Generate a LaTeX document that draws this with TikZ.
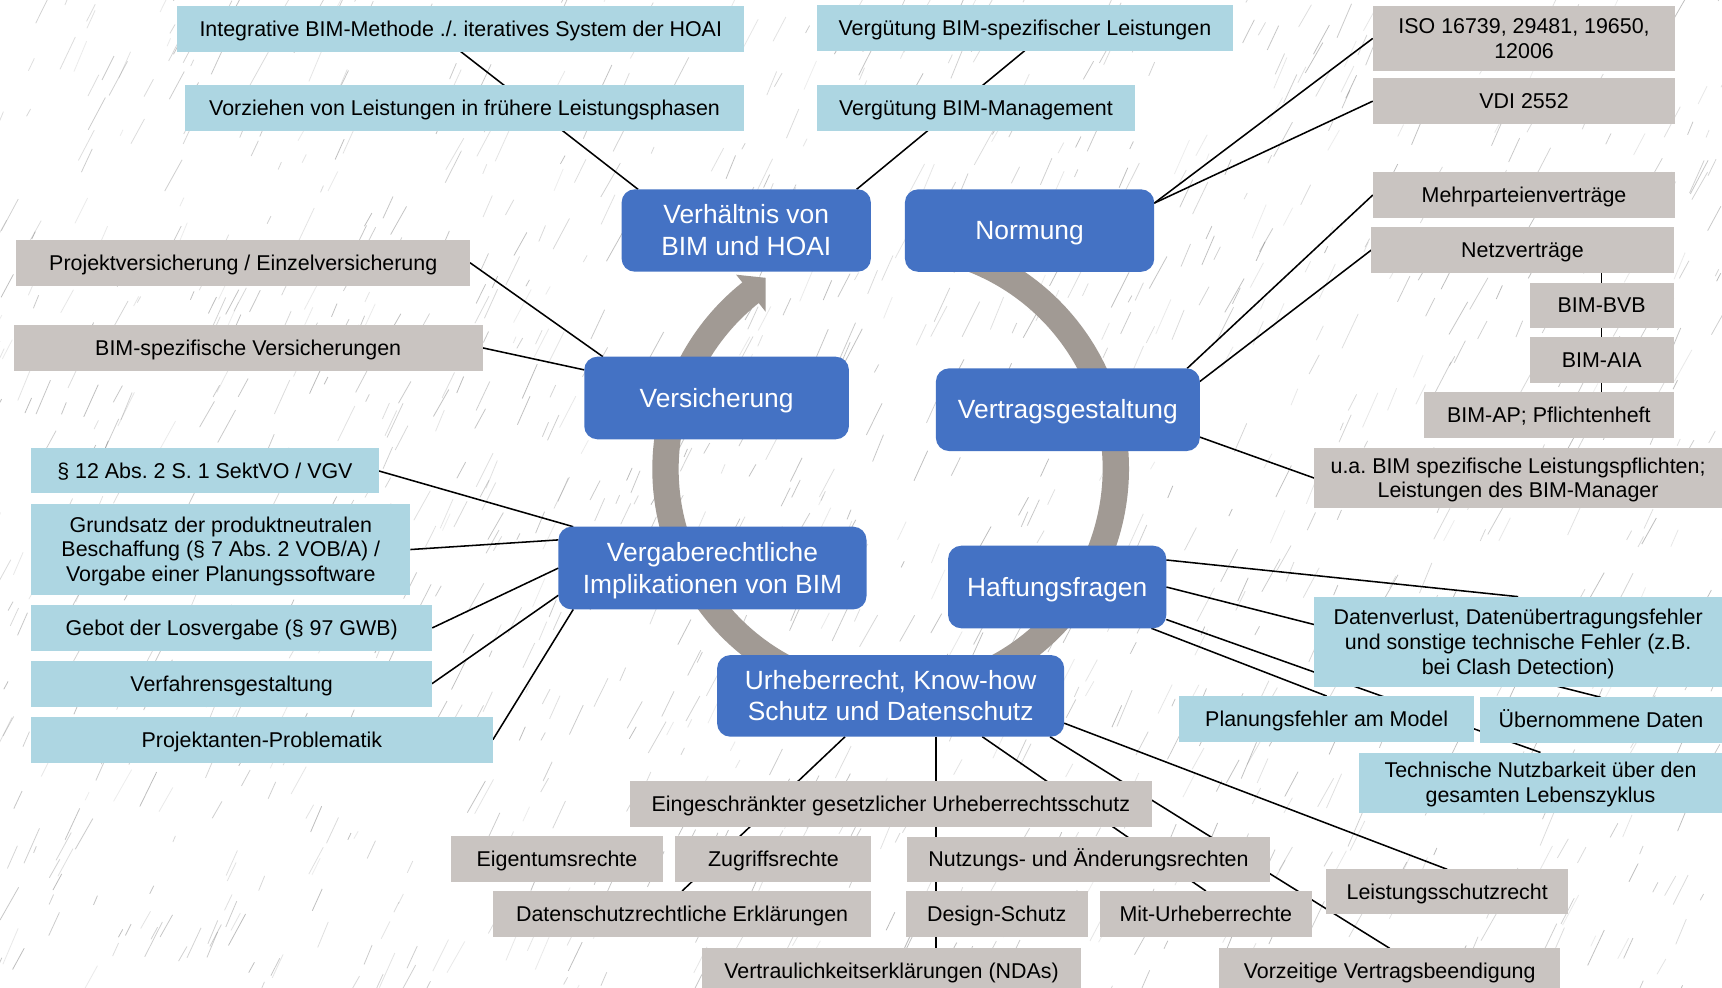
\documentclass[tikz,border=0pt]{standalone}
\usepackage{fontspec}
\setmainfont{Liberation Sans}
\usetikzlibrary{calc}
\definecolor{lblue}{RGB}{173,214,226}
\definecolor{gbox}{RGB}{201,196,193}
\definecolor{mblue}{RGB}{68,114,196}
\definecolor{ringc}{RGB}{161,154,148}
\definecolor{hatch}{RGB}{110,110,110}
\pgfdeclarelayer{bg}
\pgfsetlayers{bg,main}
\frenchspacing
\newcommand\tl[1]{\begin{tabular}[t]{@{}c@{}}#1\end{tabular}}
% \bx{style}{name}{x1}{y1}{x2}{y2}{text}
\newcommand\bx[7]{%
  \pgfmathsetmacro\bxw{#5-#3}\pgfmathsetmacro\bxh{#6-#4}%
  \pgfmathsetmacro\bxx{(#3+#5)/2}\pgfmathsetmacro\bxy{(#4+#6)/2}%
  \node[#1, minimum width=\bxw pt, minimum height=\bxh pt] (#2) at (\bxx,\bxy) {#7};}
\begin{document}
\begin{tikzpicture}[x=1pt,y=-1pt,
  leaf/.style={inner sep=0pt, outer sep=0pt, text=black, font=\fontsize{19.5}{22.5}\selectfont\frenchspacing, text height=13.4pt, text depth=0pt},
  lb/.style={leaf, fill=lblue},
  gy/.style={leaf, fill=gbox},
  two/.style={text depth=22.5pt},
  three/.style={text depth=45pt},
  hub/.style={fill=mblue, rounded corners=12pt, inner sep=0pt, outer sep=0pt, text=white, font=\fontsize{24}{29}\selectfont, text height=16.6pt, text depth=0pt},
  hubtwo/.style={text depth=29pt},
  con/.style={draw=black, line width=1.4pt},
  ring/.style={draw=ringc, line width=24pt},
  hatchline/.style={draw=hatch, line width=0.7pt}]
\useasboundingbox (0,0) rectangle (1568,899);

% hubs
\bx{hub, hubtwo}{vh}{566}{172.4}{793}{247.4}{\tl{Verhältnis von\\BIM und HOAI}}
\bx{hub}{nm}{824}{172.4}{1051}{247.5}{Normung}
\bx{hub}{vs}{532}{324.8}{773}{400}{Versicherung}
\bx{hub}{vg}{852.2}{335.4}{1092.5}{410.7}{Vertragsgestaltung}
\bx{hub, hubtwo}{vr}{508.5}{479.6}{789}{554.9}{\tl{Vergaberechtliche\\Implikationen von BIM}}
\bx{hub}{hf}{863.3}{496.9}{1062}{572.1}{Haftungsfragen}
\bx{hub, hubtwo}{ur}{653}{596.5}{969}{670.8}{\tl{Urheberrecht, Know-how\\Schutz und Datenschutz}}

% top
\bx{lb}{i1}{161.3}{5.5}{677.8}{47}{Integrative BIM-Methode ./. iteratives System der HOAI}
\bx{lb}{i2}{168.3}{77.4}{677.8}{119}{Vorziehen von Leistungen in frühere Leistungsphasen}
\bx{lb}{v1}{744}{4.6}{1122.5}{46}{Vergütung BIM-spezifischer Leistungen}
\bx{lb}{v2}{744}{77.4}{1033.4}{119}{Vergütung BIM-Management}

% right top
\bx{gy, two}{iso}{1250}{5.5}{1525.5}{64.4}{\tl{ISO 16739, 29481, 19650,\\12006}}
\bx{gy}{vdi}{1250}{71.3}{1525.5}{112.9}{VDI 2552}
\bx{gy}{mp}{1250}{157}{1525.5}{198.2}{Mehrparteienverträge}
\bx{gy}{nv}{1248.7}{207}{1524}{248.3}{Netzverträge}
\bx{gy}{bvb}{1392.9}{257.5}{1524}{298.5}{BIM-BVB}
\bx{gy}{aia}{1392.9}{307.2}{1524}{348.5}{BIM-AIA}
\bx{gy}{ap}{1296.7}{357}{1524}{398.6}{BIM-AP; Pflichtenheft}
\bx{gy, two}{ua}{1196.6}{407.7}{1568}{462.9}{\tl{u.a. BIM spezifische Leistungspflichten;\\Leistungen des BIM-Manager}}

% left
\bx{gy}{pv}{15}{218.5}{428}{260}{Projektversicherung / Einzelversicherung}
\bx{gy}{bv}{12.5}{296}{439.5}{337.5}{BIM-spezifische Versicherungen}
\bx{lb}{p12}{28.5}{408.3}{344.7}{449.2}{§ 12 Abs. 2 S. 1 SektVO / VGV}
\bx{lb, three}{gs}{28.5}{459}{373.6}{541.8}{\tl{Grundsatz der produktneutralen\\Beschaffung (§ 7 Abs. 2 VOB/A) /\\Vorgabe einer Planungssoftware}}
\bx{lb}{gb}{28.5}{551}{393.6}{592.5}{Gebot der Losvergabe (§ 97 GWB)}
\bx{lb}{vf}{28.5}{601.5}{393.4}{643.5}{Verfahrensgestaltung}
\bx{lb}{pj}{28}{652.6}{448.8}{694.5}{Projektanten-Problematik}

% right middle
\bx{lb, three}{dv}{1196.8}{543.3}{1568}{625.9}{\tl{Datenverlust, Datenübertragungsfehler\\und sonstige technische Fehler (z.B.\\bei Clash Detection)}}
\bx{lb}{pf}{1074}{633.8}{1342}{675.4}{Planungsfehler am Model}
\bx{lb}{ud}{1347.7}{635}{1568}{676.3}{Übernommene Daten}
\bx{lb, two}{tn}{1237.5}{685.2}{1568}{740}{\tl{Technische Nutzbarkeit über den\\gesamten Lebenszyklus}}

% bottom
\bx{gy}{eg}{573.6}{711.2}{1048.7}{752.8}{Eingeschränkter gesetzlicher Urheberrechtsschutz}
\bx{gy}{et}{411}{761.3}{603.3}{802.9}{Eigentumsrechte}
\bx{gy}{zr}{615}{761.3}{793.5}{802.9}{Zugriffsrechte}
\bx{gy}{nu}{826}{761.8}{1156.3}{802.9}{Nutzungs- und Änderungsrechten}
\bx{gy}{ds}{448.8}{811.3}{793.5}{853}{Datenschutzrechtliche Erklärungen}
\bx{gy}{dsch}{824.9}{811.3}{990.3}{853}{Design-Schutz}
\bx{gy}{mu}{1001.6}{811.3}{1194.4}{853}{Mit-Urheberrechte}
\bx{gy}{vt}{639.4}{863.6}{984.2}{904.6}{Vertraulichkeitserklärungen (NDAs)}
\bx{gy}{ls}{1207.6}{791.6}{1428}{832.6}{Leistungsschutzrecht}
\bx{gy}{vz}{1110}{863.5}{1420.8}{904.5}{Vorzeitige Vertragsbeendigung}

\begin{pgfonlayer}{bg}
\fill[white] (0,0) rectangle (1568,899);
% background texture
\pgfmathsetseed{4242}
\foreach \k in {1,...,1400} {
  \pgfmathsetmacro\hx{rnd*1600-20}
  \pgfmathsetmacro\hy{rnd*930-15}
  \pgfmathsetmacro\hl{6+rnd*30}
  \pgfmathsetmacro\ha{-60-rnd*8}
  \pgfmathsetmacro\ho{0.12+rnd*0.35}
  \draw[hatchline, opacity=\ho] (\hx,\hy) -- ++(\ha:\hl);
}
% cycle arrow
\draw[ring] (811,427) ++(-78:205) arc[start angle=-78, end angle=232, radius=205];
\fill[ringc] ($(811,427)+(-128.5:183)$) -- ($(811,427)+(-128.5:226)$) -- ($(811,427)+(-123.2:208)$) -- cycle;
% connectors
\draw[con] ([xshift=15pt]vh.north west) -- (i1.south);
\draw[con] ([xshift=-13pt]vh.north east) -- (v1.south);
\draw[con] ([yshift=-12.6pt]nm.north east) -- (iso.west);
\draw[con] ([yshift=-12.6pt]nm.north east) -- (vdi.west);
\draw[con] ([xshift=-11.5pt]vg.north east) -- (mp.west);
\draw[con] ([yshift=-12pt]vg.north east) -- (nv.west);
\draw[con] ([yshift=12.7pt]vg.south east) -- (ua.west);
\draw[con] (bvb.north) -- (bvb.north |- nv.south);
\draw[con] (aia.north) -- (aia.north |- bvb.south);
\draw[con] (aia.south) -- (aia.south |- ap.north);
\draw[con] ([xshift=17pt]vs.north west) -- (pv.east);
\draw[con] ([yshift=-12pt]vs.north west) -- (bv.east);
\draw[con] ([xshift=13.5pt]vr.north west) -- (p12.east);
\draw[con] ([yshift=-12pt]vr.north west) -- (gs.east);
\draw[con] (vr.west) -- (gb.east);
\draw[con] ([yshift=12.9pt]vr.south west) -- (vf.east);
\draw[con] ([xshift=13.5pt]vr.south west) -- (pj.east);
\draw[con] ([yshift=-13pt]hf.north east) -- (dv.north);
\draw[con] (hf.east) -- (ud.north);
\draw[con] ([yshift=8pt]hf.south east) -- (tn.north);
\draw[con] ([xshift=-13.6pt]hf.south east) -- (pf.north);
\draw[con] ([xshift=116.5pt]ur.south west) -- (ds.north);
\coordinate (uv) at ([xshift=199.3pt]ur.south west);
\draw[con] (uv) -- (uv |- vt.north);
\draw[con] ([xshift=-74.6pt]ur.south east) -- (mu.north);
\draw[con] ([xshift=-13pt]ur.south east) -- (vz.north);
\draw[con] ([yshift=12.3pt]ur.south east) -- (ls.north);
\end{pgfonlayer}
\end{tikzpicture}
\end{document}
